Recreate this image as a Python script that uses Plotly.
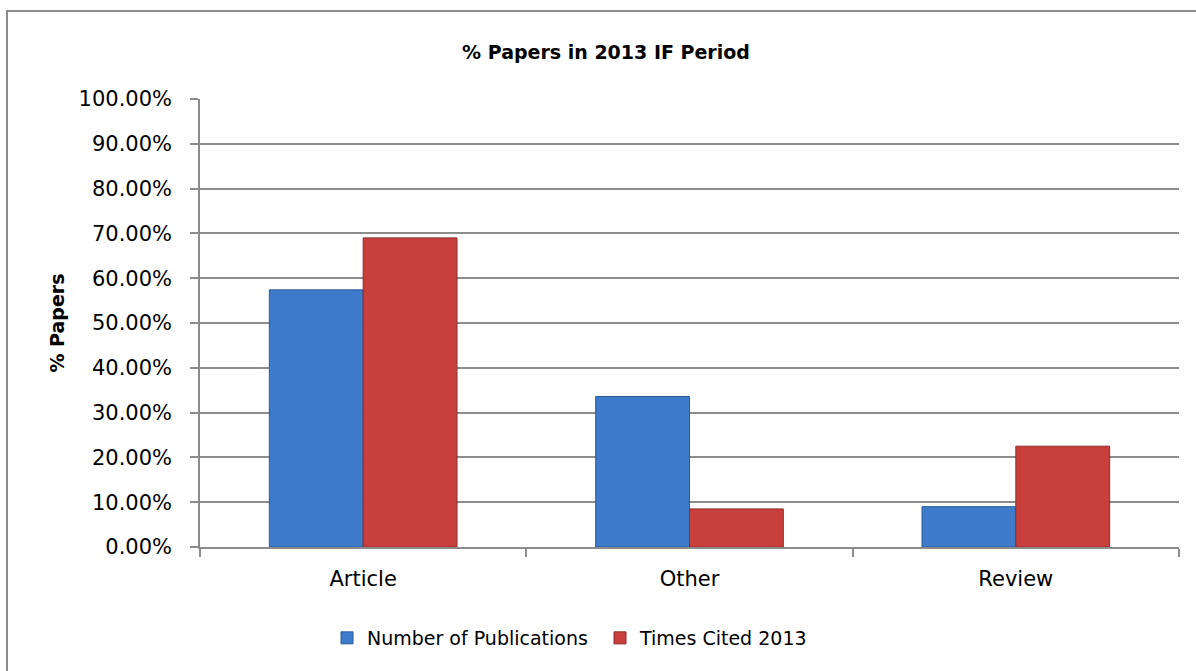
import plotly.graph_objects as go

# Share of papers by document type in the 2013 impact-factor window (percent)
categories = ["Article", "Other", "Review"]
publications_pct = [57.4, 33.6, 9.0]
times_cited_pct = [69.0, 8.5, 22.5]

FONT = "DejaVu Sans"
GRID = "#8c8c8c"

fig = go.Figure()
fig.add_trace(go.Bar(
    name="Number of Publications",
    x=categories,
    y=[v / 100 for v in publications_pct],
    marker=dict(color="#3e7bcb", line=dict(color="#2b5a96", width=1)),
))
fig.add_trace(go.Bar(
    name="Times Cited 2013",
    x=categories,
    y=[v / 100 for v in times_cited_pct],
    marker=dict(color="#c93f3c", line=dict(color="#8e2b29", width=1)),
))

fig.update_layout(
    width=1196,
    height=671,
    barmode="group",
    bargap=0.425,
    bargroupgap=0,
    paper_bgcolor="white",
    plot_bgcolor="white",
    margin=dict(l=200, r=17, t=99, b=124),
    font=dict(family=FONT, color="black", size=20),
    title=dict(
        text="<b>% Papers in 2013 IF Period</b>",
        font=dict(family=FONT, size=19, color="black"),
        x=606 / 1196, xanchor="center", xref="container",
        y=1 - 52 / 671, yanchor="middle", yref="container",
    ),
    legend=dict(
        orientation="h",
        x=(342 - 15) / 1196, xanchor="left", xref="container",
        y=1 - 638 / 671, yanchor="middle", yref="container",
        font=dict(family=FONT, size=19),
        itemwidth=30,
        entrywidth=228,
        tracegroupgap=0,
        bgcolor="rgba(0,0,0,0)",
    ),
    yaxis=dict(
        range=[0, 1],
        dtick=0.1,
        tickformat=".2%",
        showgrid=True,
        gridcolor=GRID,
        gridwidth=1.5,
        showline=True,
        linecolor=GRID,
        linewidth=1.5,
        ticks="outside",
        ticklen=8,
        tickcolor=GRID,
        tickwidth=1.5,
        tickfont=dict(family=FONT, size=21),
        ticklabelstandoff=14,
        zeroline=False,
        title=dict(text="<b>% Papers</b>", font=dict(family=FONT, size=19), standoff=9),
    ),
    xaxis=dict(
        showline=True,
        linecolor=GRID,
        linewidth=1.5,
        ticks="outside",
        tickson="boundaries",
        ticklen=8,
        tickcolor=GRID,
        tickwidth=1.5,
        tickfont=dict(family=FONT, size=21),
        ticklabelstandoff=12,
    ),
    shapes=[
        dict(
            type="rect", xref="paper", yref="paper",
            x0=-193 / 979, x1=1.03, y0=-0.3, y1=1 + 88 / 448,
            line=dict(color="#8c8c8c", width=2),
            fillcolor="rgba(0,0,0,0)",
            layer="below",
        )
    ],
)

fig.write_html("out.html")
